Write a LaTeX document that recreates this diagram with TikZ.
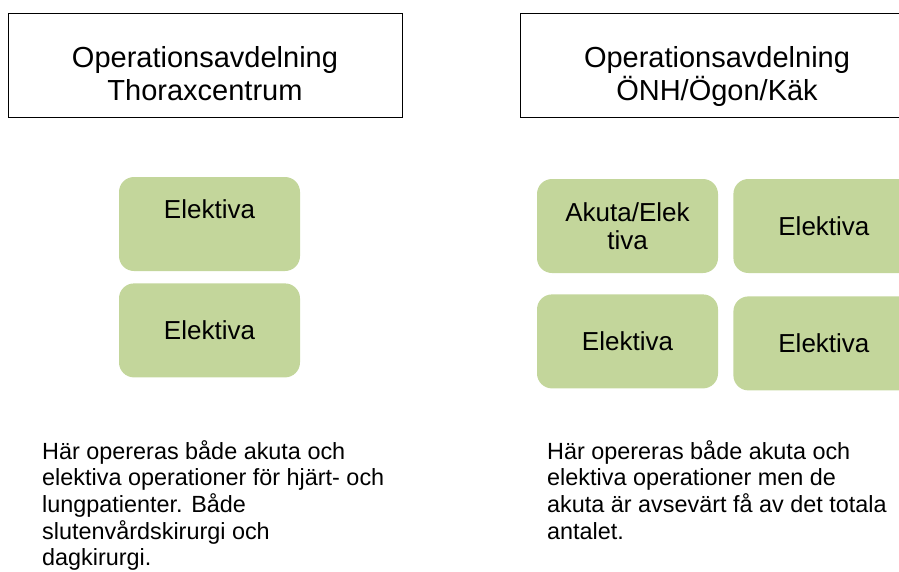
\documentclass[tikz,border=0pt]{standalone}
\usepackage{fontspec}
\setmainfont{Liberation Sans}
\usetikzlibrary{positioning}
\definecolor{roomgreen}{RGB}{195,214,155}

\begin{document}
\begin{tikzpicture}[
    x=1pt, y=-1pt,
    unit/.style={
        rectangle,
        draw=black,
        line width=1pt,
        minimum width=394pt,
        minimum height=104pt,
        inner sep=0pt
    },
    room/.style={
        rectangle,
        rounded corners=15pt,
        fill=roomgreen,
        minimum width=181pt,
        minimum height=94pt,
        inner sep=0pt,
        align=center,
        font=\fontsize{26}{28}\selectfont
    },
    head/.style={
        anchor=base,
        inner sep=0pt,
        font=\fontsize{29}{33}\selectfont
    },
    note/.style={
        anchor=north west,
        align=left,
        inner sep=0pt,
        font=\fontsize{23.4}{26.7}\selectfont
    }
]

\clip (0,0) rectangle (899,571);

% Thoraxcentrum
\node[unit] (thorax) at (205,65) {};
\node[head] (thoraxname) at (205,67) {Operationsavdelning};
\node[head] (thoraxsub) at (205,100) {Thoraxcentrum};

\node[room] (thoraxA) at (209.5,224) {};
\node[head, font=\fontsize{26}{28}\selectfont] (thoraxAtext) at (209.5,218) {Elektiva};
\node[room, below=12pt of thoraxA] (thoraxB) {Elektiva};

\node[note] (thoraxnote) at (42,440) {Här opereras både akuta och\\elektiva operationer för hjärt- och\\lungpatienter. Både\\slutenvårdskirurgi och\\dagkirurgi.};

% ONH/Ogon/Kak
\node[unit] (onh) at (717,65) {};
\node[head] (onhname) at (717,67) {Operationsavdelning};
\node[head] (onhsub) at (717,100) {ÖNH/Ögon/Käk};

\node[room] (onhA) at (627.5,226) {Akuta/Elek\\tiva};
\node[room, right=15pt of onhA] (onhB) {Elektiva};
\node[room, below=21pt of onhA] (onhC) {Elektiva};
\node[room, below=23pt of onhB] (onhD) {Elektiva};

\node[note] (onhnote) at (547,440) {Här opereras både akuta och\\elektiva operationer men de\\akuta är avsevärt få av det totala\\antalet.};

\end{tikzpicture}
\end{document}
